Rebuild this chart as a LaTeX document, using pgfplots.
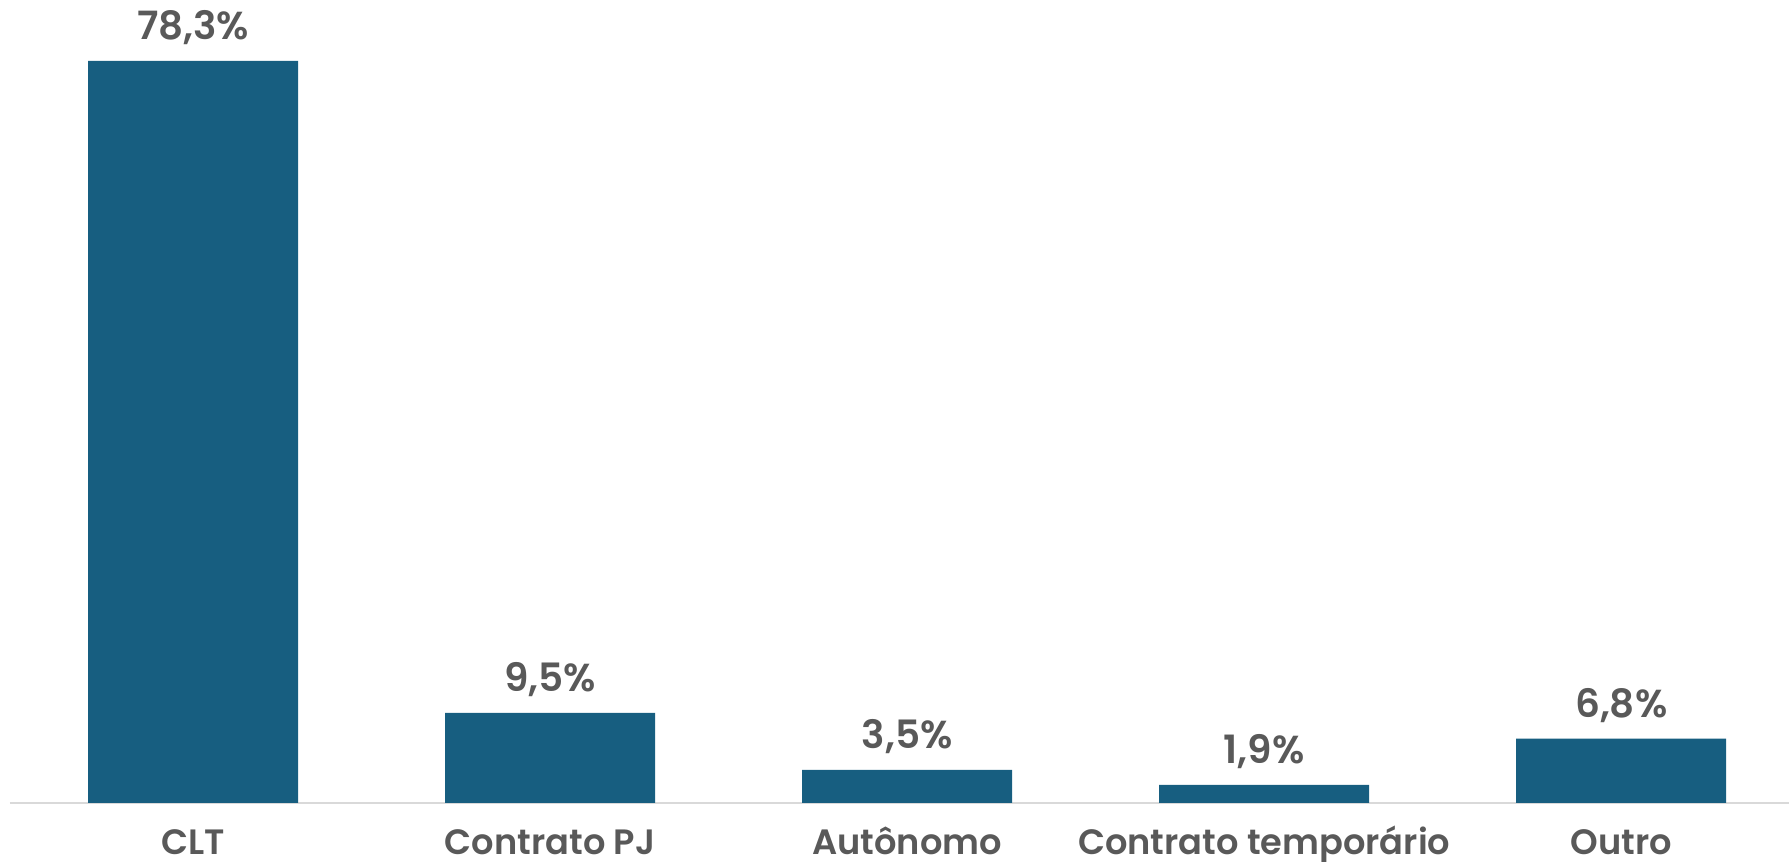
\documentclass[border=0pt]{standalone}
\usepackage{pgfplots}
\pgfplotsset{compat=1.18}
\usepackage{fontspec}
\setmainfont{Poppins}[BoldFont={Poppins SemiBold}]
\definecolor{barblue}{HTML}{175E80}
\definecolor{txtgray}{HTML}{595959}
\definecolor{axgray}{HTML}{D9D9D9}
\begin{document}
\begin{tikzpicture}
\useasboundingbox (0,0) rectangle (894.5pt,431pt);
\begin{axis}[
  at={(5pt,29.5pt)}, anchor=south west,
  scale only axis,
  width=889.5pt, height=401.5pt,
  xmin=-0.513, xmax=4.47,
  ymin=0, ymax=84.73,
  axis line style={draw=none},
  axis x line*=bottom,
  axis y line=none,
  ybar, bar width=105pt,
  xtick={0,1,2,3,4},
  xticklabels={CLT,Contrato PJ,Autônomo,Contrato temporário,Outro},
  major tick length=0pt,
  /pgf/number format/assume math mode=true,
  xticklabel style={font=\fontsize{17.6}{20}\selectfont\bfseries, text=txtgray, anchor=base, yshift=-26pt, inner sep=0pt},
  nodes near coords={\pgfmathprintnumber[fixed, fixed zerofill, precision=1, use comma, assume math mode=true]{\pgfplotspointmeta}\%},
  nodes near coords style={font=\fontsize{19.5}{22}\selectfont\bfseries, text=txtgray, anchor=base, yshift=10.5pt, inner sep=0pt},
  clip=false,
]
\draw[axgray, line width=1pt] (axis cs:-0.513,0) -- (axis cs:4.47,0);
\addplot[fill=barblue, draw=none] coordinates {(0,78.3) (1,9.5) (2,3.5) (3,1.9) (4,6.8)};
\end{axis}
\end{tikzpicture}
\end{document}
